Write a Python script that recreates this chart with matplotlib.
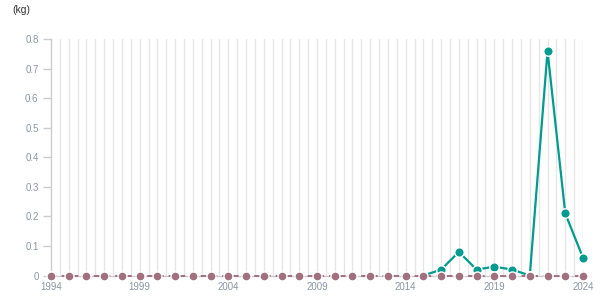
import numpy as np
import matplotlib
matplotlib.use("Agg")
import matplotlib.pyplot as plt

years = list(range(1994, 2025))
# first series: reported only from 2015 onward
teal_vals = [np.nan] * 21 + [0.0, 0.02, 0.08, 0.02, 0.03, 0.02, 0.0, 0.76, 0.21, 0.06]
# second series: zero across the whole period
mauve_vals = [0.0] * 31
y_ticks = [0, 0.1, 0.2, 0.3, 0.4, 0.5, 0.6, 0.7, 0.8]
y_tick_labels = ["0", "0.1", "0.2", "0.3", "0.4", "0.5", "0.6", "0.7", "0.8"]
x_tick_years = [1994, 1999, 2004, 2009, 2014, 2019, 2024]

TEAL = "#009b8f"
MAUVE = "#a0707f"
GRID = "#e6e6e6"
AXIS = "#cccccc"
LABEL = "#8c96a6"

plt.rcParams["font.family"] = ["Liberation Sans", "DejaVu Sans"]

fig = plt.figure(figsize=(6.15, 3.05), dpi=100)
ax = fig.add_axes([51 / 615, (305 - 275.5) / 305, 532 / 615, (275.5 - 39.3) / 305])

ax.set_xlim(1994, 2024)
ax.set_ylim(0, 0.8)

# vertical grid at every half year
for gx in np.arange(1994.5, 2024.01, 0.5):
    ax.axvline(gx, color=GRID, lw=1, zorder=0)

ax.plot(years, teal_vals, color=TEAL, lw=1.6, marker="o", ms=6.8,
        mfc=TEAL, mec="white", mew=1.0, zorder=3, clip_on=False)
ax.plot(years, mauve_vals, color=MAUVE, lw=1.4, ls=(0, (3, 2.5)), marker="o", ms=6.5,
        mfc=MAUVE, mec="white", mew=1.0, zorder=4, clip_on=False)

ax.set_yticks(y_ticks)
ax.set_yticklabels(y_tick_labels)
ax.set_xticks(x_tick_years)
ax.set_xticklabels([str(y) for y in x_tick_years])

for side in ["top", "right"]:
    ax.spines[side].set_visible(False)
ax.spines["left"].set_color(AXIS)
ax.spines["bottom"].set_color(AXIS)
ax.spines["left"].set_linewidth(1)
ax.spines["bottom"].set_linewidth(1)

ax.tick_params(axis="y", length=6, width=1, color=AXIS, labelcolor=LABEL,
               labelsize=7, pad=3)
ax.tick_params(axis="x", direction="inout", length=8, width=1, color="#e8e0e3",
               labelcolor=LABEL, labelsize=7, pad=1)
for t in ax.xaxis.get_major_ticks():
    t.tick1line.set_zorder(6)
ax.set_axisbelow(False)

fig.text(12 / 615, 1 - 10 / 305, "(kg)", fontsize=7.5, color="#333333",
         ha="left", va="center")

fig.savefig("out.png", dpi=100, facecolor="white")
